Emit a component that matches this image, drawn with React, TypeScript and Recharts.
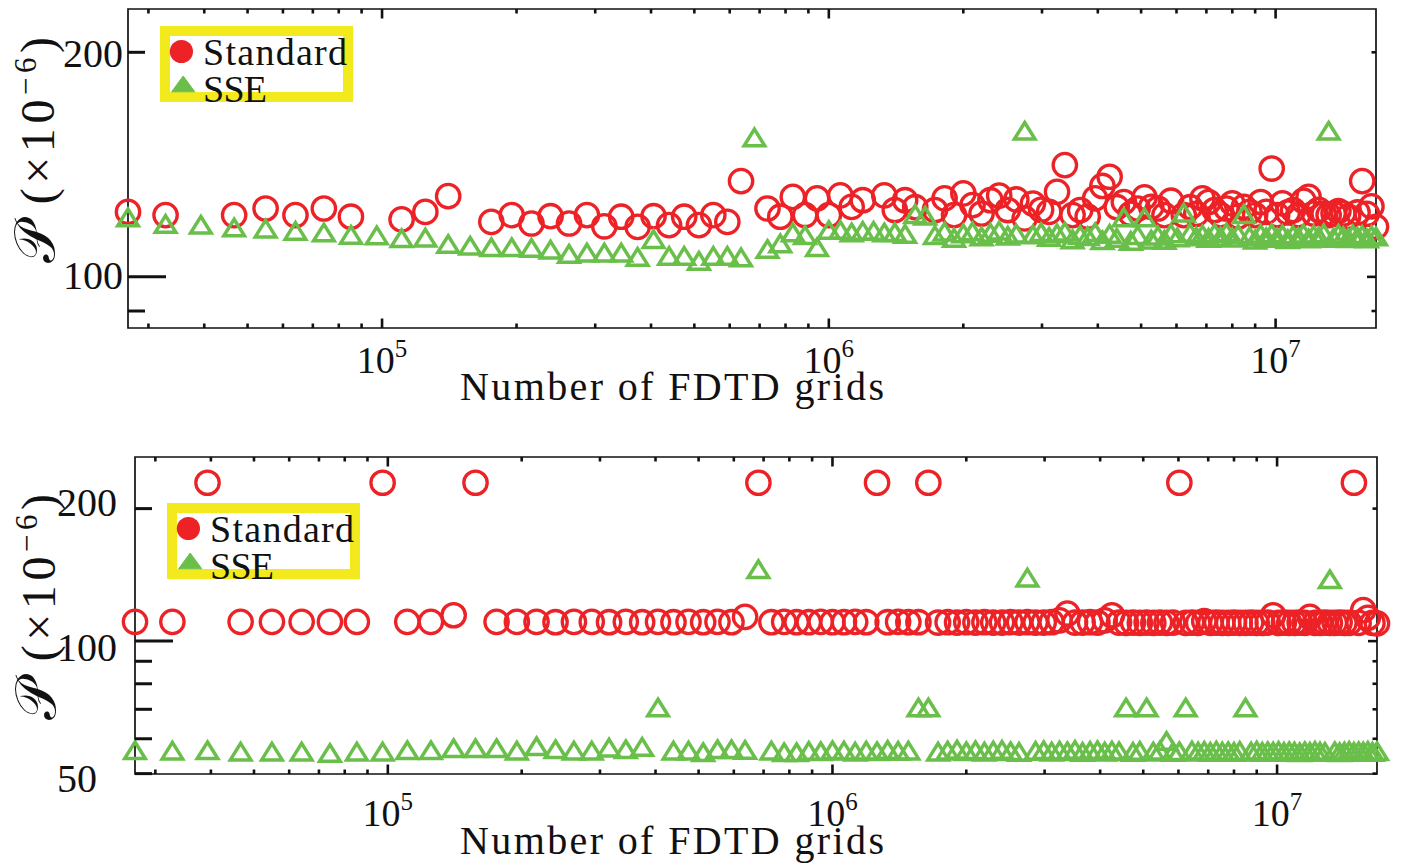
import React from 'react';
import { ScatterChart, Scatter, XAxis, YAxis, ReferenceArea, Legend } from 'recharts';

const RED = '#EC2227';
const GREEN = '#6ABF4B';
const YELLOW = '#F2EA1C';
const INK = '#111111';
const FONT = '"Liberation Serif", "Times New Roman", serif';

// Cube side length n of the FDTD grid (number of grids = n^3)
const gridSide = [
  30, 32, 34, 36, 38, 40, 42, 44, 46, 48,
  50, 52, 54, 56, 58, 60, 62, 64, 66, 68,
  70, 72, 74, 76, 78, 80, 82, 84, 86, 88,
  90, 92, 94, 96, 98, 100, 102, 104, 106, 108,
  110, 112, 114, 116, 118, 120, 122, 124, 126, 128,
  130, 132, 134, 136, 138, 140, 142, 144, 146, 148,
  150, 152, 154, 156, 158, 160, 162, 164, 166, 168,
  170, 172, 174, 176, 178, 180, 182, 184, 186, 188,
  190, 192, 194, 196, 198, 200, 202, 204, 206, 208,
  210, 212, 214, 216, 218, 220, 222, 224, 226, 228,
  230, 232, 234, 236, 238, 240, 242, 244, 246, 248,
  250, 252, 254, 256,
];

// Upper panel (null = off the top of the axis)
const topStandard: (number | null)[] = [
  122.2, 121.0, null, 121.0, 123.5, 121.0, 123.5, 120.4, null, 119.4,
  122.2, 128.3, null, 118.5, 121.0, 117.9, 120.6, 117.9, 121.0, 116.9,
  120.4, 116.7, 120.6, 117.3, 120.4, 117.3, 121.0, 118.5, 134.4, null,
  123.5, 120.4, 128.0, 121.0, 127.4, 121.0, 128.6, 124.1, 126.7, null,
  128.6, 122.9, 126.7, 124.0, null, 122.9, 127.4, 121.0, 129.4, 124.8,
  121.6, 126.7, 128.5, 122.9, 127.0, 119.8, 125.4, 123.0, 122.2, 130.0,
  141.2, 121.0, 122.9, 120.4, 127.4, 132.4, 136.2, 124.0, 126.0, 121.5,
  123.5, 127.8, 124.1, 123.5, 121.0, 126.5, null, 121.0, 124.0, 121.5,
  127.4, 126.0, 122.9, 121.0, 123.5, 125.5, 120.5, 124.1, 122.2, 121.0,
  126.0, 122.2, 139.7, 121.0, 125.5, 122.0, 122.9, 121.0, 126.5, 128.0,
  121.6, 123.0, 121.5, 121.0, 121.6, 122.5, 121.6, 120.4, null, 122.0,
  134.4, 121.5, 124.3, 116.7,
];
const topSSE: (number | null)[] = [
  120.4, 118.0, 117.7, 116.7, 116.3, 115.5, 114.9, 114.1, 113.9, 112.9,
  113.1, 110.9, 110.3, 109.8, 109.8, 109.6, 109.0, 107.6, 108.0, 108.0,
  108.0, 106.6, 112.6, 106.9, 106.9, 105.3, 106.9, 106.9, 106.4, 154.1,
  109.2, 111.1, 114.9, 114.0, 109.8, 115.8, 115.8, 114.9, 115.5, 115.5,
  114.9, 115.0, 114.4, 121.6, 121.0, 114.0, 115.2, 113.0, 114.6, 115.3,
  113.5, 114.8, 115.6, 113.8, 114.5, 157.3, 114.2, 115.0, 113.4, 114.6,
  115.2, 112.5, 114.0, 113.6, 115.0, 112.2, 114.4, 113.0, 120.4, 112.0,
  114.0, 120.4, 112.4, 113.8, 112.3, 114.6, 113.2, 122.2, 114.8, 113.5,
  114.2, 113.0, 114.7, 113.4, 114.9, 113.1, 114.3, 121.6, 113.6, 112.4,
  114.4, 113.2, 114.6, 113.0, 114.2, 112.6, 114.0, 113.3, 114.5, 112.8,
  114.1, 113.5, 114.6, 157.3, 113.0, 114.4, 113.6, 112.9, 114.2, 113.4,
  114.0, 112.8, 113.9, 113.5,
];

// Lower panel
const bottomStandard: (number | null)[] = [
  110.6, 110.6, 229.0, 110.6, 110.6, 110.6, 110.6, 110.6, 229.0, 110.6,
  110.6, 114.5, 229.0, 110.6, 110.6, 110.6, 110.4, 110.6, 110.6, 110.4,
  110.6, 110.4, 110.6, 110.4, 110.6, 110.4, 110.6, 110.4, 113.5, 229.0,
  110.4, 110.6, 110.4, 110.4, 110.6, 110.4, 110.4, 110.6, 110.4, 229.0,
  110.4, 110.6, 110.4, 110.4, 229.0, 110.2, 110.4, 110.2, 110.4, 110.2,
  110.4, 110.2, 110.2, 110.4, 110.2, 110.4, 110.2, 110.2, 110.4, 111.5,
  115.5, 110.2, 110.2, 110.4, 110.2, 111.5, 114.5, 110.2, 110.0, 110.2,
  110.0, 110.2, 110.0, 110.2, 110.0, 110.2, 229.0, 110.0, 110.2, 110.0,
  111.0, 110.0, 110.2, 110.0, 110.0, 110.2, 110.0, 110.0, 110.2, 110.0,
  110.0, 110.2, 114.5, 110.0, 110.2, 110.0, 110.0, 110.2, 110.0, 113.5,
  110.0, 110.0, 110.2, 110.0, 110.0, 110.2, 110.0, 110.0, 229.0, 110.0,
  117.6, 113.0, 110.0, 109.7,
];
const bottomSSE: (number | null)[] = [
  56.7, 56.6, 56.7, 56.3, 56.3, 56.3, 55.9, 56.3, 56.3, 56.7,
  56.7, 57.3, 57.3, 57.3, 56.6, 57.9, 57.0, 56.6, 56.6, 57.5,
  57.0, 57.7, 70.9, 56.6, 56.6, 56.1, 57.0, 57.0, 56.8, 146.2,
  56.6, 56.1, 56.1, 56.5, 56.4, 56.7, 56.6, 56.3, 56.6, 56.4,
  56.8, 56.5, 56.6, 70.9, 70.9, 56.3, 56.6, 56.9, 56.4, 56.7,
  56.3, 56.6, 56.8, 56.4, 56.2, 139.9, 56.5, 56.7, 56.3, 56.6,
  56.4, 56.8, 56.2, 56.5, 56.7, 56.3, 56.6, 56.4, 70.9, 56.2,
  56.5, 70.9, 56.3, 56.6, 59.5, 56.2, 56.4, 70.9, 56.6, 56.3,
  56.5, 56.2, 56.6, 56.3, 56.4, 56.2, 56.5, 70.9, 56.3, 56.6,
  56.2, 56.4, 56.3, 56.5, 56.2, 56.4, 56.3, 56.1, 56.4, 56.2,
  56.5, 56.3, 56.2, 138.7, 56.4, 56.1, 56.3, 56.5, 56.2, 56.4,
  56.3, 56.5, 56.2, 56.4,
];

const xDomain = [27000, 16777216];
const xTicks = [
  30000, 40000, 50000, 60000, 70000, 80000, 90000,
  100000, 200000, 300000, 400000, 500000, 600000, 700000, 800000, 900000,
  1000000, 2000000, 3000000, 4000000, 5000000, 6000000, 7000000, 8000000, 9000000,
  10000000,
];
const xLabelTicks = [100000, 1000000, 10000000];

const topYDomain = [85.4, 228.6];
const topYTicks = [90, 100, 200];
const topYLabels = [100, 200];
const bottomYDomain = [49.9, 262];
const bottomYTicks = [50, 60, 70, 80, 90, 100, 200];
const bottomYLabels = [50, 100, 200];
const yMajorTick = 100;

const seriesNames = ['Standard', 'SSE'];
const xTitle = 'Number of FDTD grids';

function toPoints(values: (number | null)[]) {
  return gridSide
    .map((n, i) => ({ x: n * n * n, y: values[i] }))
    .filter((p) => p.y !== null);
}

const Ring = (props: any) => {
  const { cx, cy } = props;
  if (cx == null || cy == null) return <g />;
  return <circle cx={cx} cy={cy} r={11.7} fill="none" stroke={RED} strokeWidth={3.3} />;
};

const Tri = (props: any) => {
  const { cx, cy } = props;
  if (cx == null || cy == null) return <g />;
  const d = `M${cx},${cy - 7.6} L${cx + 10.3},${cy + 9} L${cx - 10.3},${cy + 9} Z`;
  return <path d={d} fill="none" stroke={GREEN} strokeWidth={3.5} strokeLinejoin="miter" />;
};

type PanelCfg = {
  top: number;
  height: number;
  plot: { left: number; right: number; top: number; bottom: number };
  yDomain: number[];
  yTicks: number[];
  yLabels: number[];
  yLabelX: number;
  yLabelDy: Record<number, number>;
  xLabelDy: number;
  xTitleY: number;
  yTitle: { x: number; y: number };
  legend: { left: number; top: number };
  standard: (number | null)[];
  sse: (number | null)[];
};

function LegendBox() {
  return (
    <svg width={200} height={95} style={{ overflow: 'visible', display: 'block' }}>
      <rect x={5} y={5} width={183} height={66} fill="#ffffff" stroke={YELLOW} strokeWidth={10} />
      <circle cx={21.4} cy={25.5} r={11.6} fill={RED} />
      <path d="M23.2,50 L34.8,65.8 L11.6,65.8 Z" fill={GREEN} stroke={GREEN} strokeWidth={1} />
      <text x={43} y={39} fontFamily={FONT} fontSize={38} fill={INK} textLength={144} lengthAdjust="spacing">
        {seriesNames[0]}
      </text>
      <text x={43} y={75.5} fontFamily={FONT} fontSize={38} fill={INK} textLength={64} lengthAdjust="spacing">
        {seriesNames[1]}
      </text>
    </svg>
  );
}

function Panel({ cfg }: { cfg: PanelCfg }) {
  const W = 1404;
  const yAxisW = 60;
  const xAxisH = 60;
  const { plot } = cfg;
  const margin = {
    top: plot.top,
    right: W - plot.right,
    left: plot.left - yAxisW,
    bottom: cfg.height - plot.bottom - xAxisH,
  };

  const xTick = (props: any) => {
    const { x, y, payload } = props;
    const v = payload.value;
    const major = xLabelTicks.includes(v);
    const len = major ? 9.5 : 4.5;
    const exp = Math.round(Math.log10(v));
    return (
      <g>
        <line x1={x} y1={y} x2={x} y2={y - len} stroke={INK} strokeWidth={2.6} />
        <line x1={x} y1={plot.top} x2={x} y2={plot.top + len} stroke={INK} strokeWidth={2.6} />
        {major && (
          <text x={x} y={y + cfg.xLabelDy} textAnchor="middle" fontFamily={FONT} fontSize={38} fill={INK}>
            10
            <tspan dy={-16} fontSize={25}>
              {exp}
            </tspan>
          </text>
        )}
      </g>
    );
  };

  const yTick = (props: any) => {
    const { x, y, payload } = props;
    const v = payload.value;
    const major = v === yMajorTick;
    const lenL = major ? 38 : 17;
    const lenR = major ? 9 : 4.5;
    const labeled = cfg.yLabels.includes(v);
    return (
      <g>
        <line x1={x} y1={y} x2={x + lenL} y2={y} stroke={INK} strokeWidth={3} />
        <line x1={plot.right} y1={y} x2={plot.right - lenR} y2={y} stroke={INK} strokeWidth={2.6} />
        {labeled && (
          <text x={cfg.yLabelX} y={y + (cfg.yLabelDy[v] ?? 14)} textAnchor="start" fontFamily={FONT} fontSize={40} fill={INK}>
            {String(v)}
          </text>
        )}
      </g>
    );
  };

  const xTitleEl = () => (
    <text x={672} y={cfg.xTitleY} textAnchor="middle" fontFamily={FONT} fontSize={40} fill={INK} textLength={424} lengthAdjust="spacing">
      {xTitle}
    </text>
  );

  const yTitleEl = () => {
    const { x, y } = cfg.yTitle;
    return (
      <text
        x={x}
        y={y}
        transform={`rotate(-90 ${x} ${y})`}
        textAnchor="middle"
        fontFamily={FONT}
        fontSize={48}
        fill={INK}
        textLength={226}
        lengthAdjust="spacing"
      >
        <tspan fontSize={56}>𝒫</tspan>
        <tspan>{'\u2009(×10'}</tspan>
        <tspan dy={-18} fontSize={31}>−6</tspan>
        <tspan dy={18}>)</tspan>
      </text>
    );
  };

  return (
    <div style={{ position: 'absolute', left: 0, top: cfg.top, width: W, height: cfg.height }}>
      <ScatterChart width={W} height={cfg.height} margin={margin}>
        <XAxis
          dataKey="x"
          type="number"
          scale="log"
          domain={xDomain}
          ticks={xTicks}
          interval={0}
          tickSize={0}
          tickMargin={0}
          height={xAxisH}
          axisLine={false}
          tickLine={false}
          tick={xTick}
          label={xTitleEl}
        />
        <YAxis
          dataKey="y"
          type="number"
          scale="log"
          domain={cfg.yDomain}
          ticks={cfg.yTicks}
          interval={0}
          tickSize={0}
          tickMargin={0}
          width={yAxisW}
          axisLine={false}
          tickLine={false}
          tick={yTick}
          label={yTitleEl}
        />
        <ReferenceArea
          x1={xDomain[0]}
          x2={xDomain[1]}
          y1={cfg.yDomain[0]}
          y2={cfg.yDomain[1]}
          fill="none"
          fillOpacity={0}
          stroke={INK}
          strokeWidth={1.7}
          ifOverflow="visible"
        />
        <Scatter name={seriesNames[0]} data={toPoints(cfg.standard)} shape={Ring} isAnimationActive={false} />
        <Scatter name={seriesNames[1]} data={toPoints(cfg.sse)} shape={Tri} isAnimationActive={false} />
        <Legend
          layout="vertical"
          align="center"
          verticalAlign="middle"
          content={() => <LegendBox />}
          wrapperStyle={{ left: cfg.legend.left, top: cfg.legend.top, width: 200, height: 95 }}
        />
      </ScatterChart>
    </div>
  );
}

const topCfg: PanelCfg = {
  top: 0,
  height: 430,
  plot: { left: 128, right: 1376, top: 9, bottom: 328 },
  yDomain: topYDomain,
  yTicks: topYTicks,
  yLabels: topYLabels,
  yLabelX: 63,
  yLabelDy: { 100: 12, 200: 15 },
  xLabelDy: 45,
  xTitleY: 400,
  yTitle: { x: 54, y: 150 },
  legend: { left: 160, top: 26 },
  standard: topStandard,
  sse: topSSE,
};

const bottomCfg: PanelCfg = {
  top: 430,
  height: 435,
  plot: { left: 135, right: 1377, top: 27, bottom: 344 },
  yDomain: bottomYDomain,
  yTicks: bottomYTicks,
  yLabels: bottomYLabels,
  yLabelX: 57,
  yLabelDy: { 50: 18, 100: 20, 200: 7 },
  xLabelDy: 52,
  xTitleY: 424,
  yTitle: { x: 55, y: 177 },
  legend: { left: 167, top: 73 },
  standard: bottomStandard,
  sse: bottomSSE,
};

export default function App() {
  return (
    <div style={{ position: 'absolute', left: 0, top: 0, width: 1404, height: 865, background: '#ffffff', overflow: 'hidden' }}>
      <Panel cfg={topCfg} />
      <Panel cfg={bottomCfg} />
    </div>
  );
}
